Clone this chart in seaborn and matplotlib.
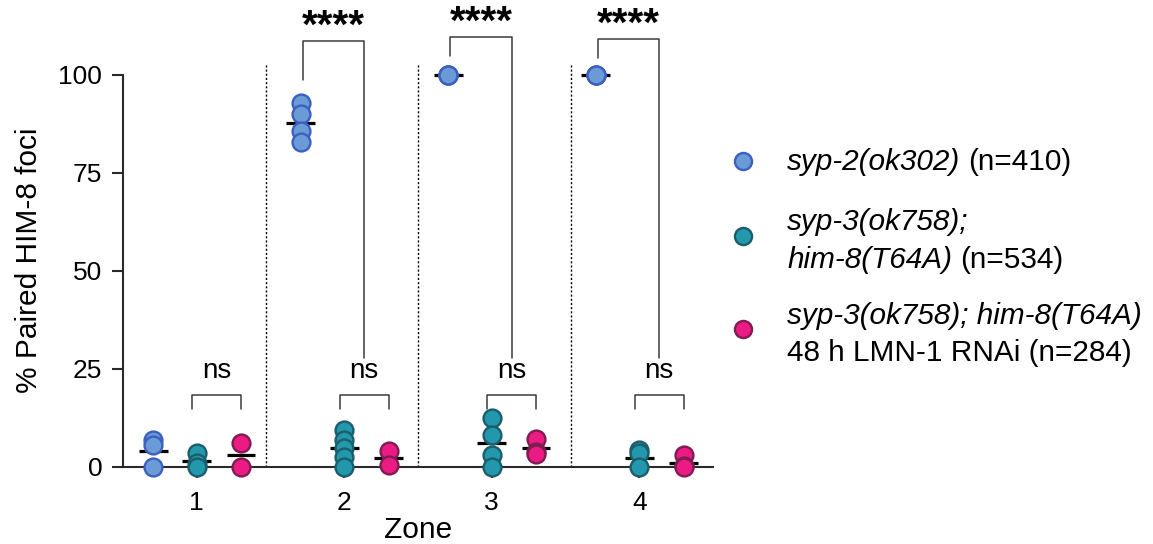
import numpy as np
import pandas as pd
import matplotlib
matplotlib.use("Agg")
import matplotlib.pyplot as plt
import seaborn as sns
from matplotlib.lines import Line2D

# ---------------- data ----------------
zones = [1, 2, 3, 4]
zone_labels = ["1", "2", "3", "4"]
y_ticks = [0, 25, 50, 75, 100]

syp2_values = [[7.0, 5.6, 0.0], [92.8, 89.9, 85.5, 82.9], [100.0, 100.0, 100.0], [100.0, 100.0, 100.0]]
syp3_values = [[3.5, 1.0, 0.0], [9.3, 6.9, 4.8, 2.6, 0.0], [12.4, 8.2, 3.1, 0.0], [4.3, 3.6, 0.0]]
rnai_values = [[6.2, 0.0], [4.0, 0.5], [7.1, 3.9, 3.4], [3.1, 0.2, 0.0]]

syp2_means = [4.1, 87.7, 100.0, 100.0]
syp3_means = [1.5, 4.8, 6.0, 2.2]
rnai_means = [3.1, 2.2, 4.8, 1.1]

star_labels = ["", "****", "****", "****"]
ns_labels = ["ns", "ns", "ns", "ns"]

group_names = ["syp2", "syp3", "rnai"]
legend_lines = [
    [("syp-2(ok302)", "italic"), ("(n=410)", "normal")],
    [("syp-3(ok758);", "italic")],
    [("him-8(T64A)", "italic"), ("(n=534)", "normal")],
    [("syp-3(ok758); him-8(T64A)", "italic")],
    [("48 h LMN-1 RNAi (n=284)", "normal")],
]

# ---------------- styles ----------------
W, H = 1153, 544
fills = ["#6b9bd6", "#2398ad", "#ec1b84"]
edges = ["#3c5fc0", "#1b5e6b", "#7d1d52"]
offsets = [-0.295, 0.0, 0.30]

rows = []
for gi, (g, vals) in enumerate(zip(group_names, [syp2_values, syp3_values, rnai_values])):
    for z, vs in zip(zones, vals):
        for v in vs:
            rows.append({"zone": z, "group": g, "value": v, "pos": z + offsets[gi]})
df = pd.DataFrame(rows)

sns.set_style("ticks")
plt.rcParams["font.family"] = ["Liberation Sans", "DejaVu Sans"]
plt.rcParams["text.color"] = "black"
plt.rcParams["axes.labelcolor"] = "black"

fig = plt.figure(figsize=(W / 100, H / 100), dpi=100)
y0_px = 467
ax = fig.add_axes([123 / W, (H - y0_px) / H, 590 / W, y0_px / H])
ytop = y0_px / 3.925

axis_col = "#2a2a2a"
line_col = "#3a3a3a"

# dotted separators
ax.vlines([1.47, 2.5, 3.54], 0, 103, colors="black", linestyles=(0, (1.5, 1.5)), lw=1.0, zorder=1)

# mean lines
for gi, means in enumerate([syp2_means, syp3_means, rnai_means]):
    pos = np.array(zones) + offsets[gi]
    ax.hlines(means, pos - 0.097, pos + 0.097, colors="black", lw=2.3, zorder=3, clip_on=False)

# points
for gi, g in enumerate(group_names):
    sub = df[df.group == g]
    sns.scatterplot(data=sub, x="pos", y="value", color=fills[gi], edgecolor=edges[gi],
                    linewidth=1.7, s=165, ax=ax, zorder=4, clip_on=False, legend=False)

# significance brackets
star_tops = [None, 108.5, 109.5, 109.0]
star_left_bottoms = [None, 98.5, 104.6, 104.3]
for zi, z in enumerate(zones):
    xl, xr = z - 0.03, z + 0.30
    ax.plot([xl, xl, xr, xr], [14.9, 18.3, 18.3, 14.9], color=line_col, lw=1.1, clip_on=False, zorder=2)
    ax.text((xl + xr) / 2, 22.6, ns_labels[zi], ha="center", va="baseline", fontsize=20)
    if star_labels[zi]:
        sl, sr = z - 0.28, z + 0.135
        top = star_tops[zi]
        ax.plot([sl, sl, sr, sr], [star_left_bottoms[zi], top, top, 27.7], color=line_col,
                lw=1.1, clip_on=False, zorder=2)
        ax.text((sl + sr) / 2, top + 0.9, star_labels[zi], ha="center", va="baseline",
                fontsize=29, fontweight="bold", clip_on=False)

ax.set_xlim(0.5, 4.5)
ax.set_ylim(0, ytop)
ax.set_xticks(zones, zone_labels)
ax.set_yticks(y_ticks)
sns.despine(ax=ax)
ax.spines["left"].set_bounds(0, 100)
for s in ["left", "bottom"]:
    ax.spines[s].set_linewidth(1.5)
    ax.spines[s].set_color(axis_col)
ax.tick_params(length=8, width=1.5, labelsize=19, pad=7, color=axis_col, labelcolor="black")
ax.tick_params(axis="x", pad=9)

ax.set_xlabel("Zone", fontsize=21.5)
ax.xaxis.label.set_va("baseline")
ax.xaxis.set_label_coords(0.5, -(538 - y0_px) / y0_px)
ax.set_ylabel("% Paired HIM-8 foci", fontsize=21.5)
ax.yaxis.label.set_va("baseline")
ax.yaxis.set_label_coords((37 - 123) / 590, (y0_px - 260) / y0_px)

# legend (markers + mixed-style text)
marker_y = [160.7, 235.7, 328.5]
for gi in range(3):
    fig.add_artist(Line2D([743 / W], [1 - marker_y[gi] / H], transform=fig.transFigure,
                          marker="o", ms=12.3, mfc=fills[gi], mec=edges[gi], mew=1.7, ls="none"))

baselines = [170, 230, 267.5, 324, 361]
renderer = fig.canvas.get_renderer()
for line, by in zip(legend_lines, baselines):
    x = 787.0
    for text, style in line:
        t = fig.text(x / W, 1 - by / H, text, fontsize=21.4, fontstyle=style,
                     ha="left", va="baseline")
        bb = t.get_window_extent(renderer=renderer)
        x = bb.x1 + 8

fig.savefig("out.png", dpi=100)
